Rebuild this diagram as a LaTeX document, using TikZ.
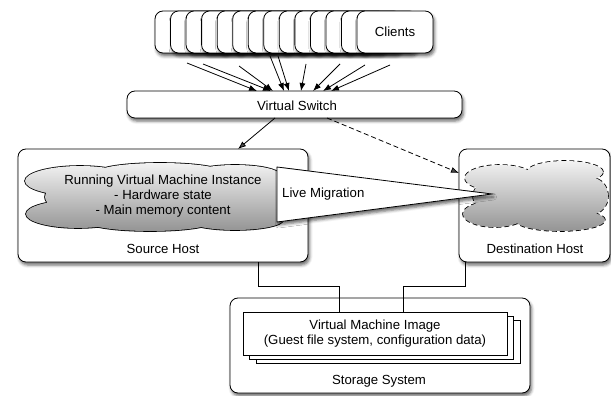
\documentclass[tikz,border=0pt]{standalone}
\usepackage{fontspec}
\setmainfont{Liberation Sans}
\usetikzlibrary{shadows.blur,arrows.meta,calc}
\tikzset{
  base/.style={font=\fontsize{13.2}{15}\selectfont},
  rbox/.style={draw, line width=0.8pt, fill=white, rounded corners=8pt, inner sep=0pt, outer sep=0pt, anchor=north west},
  shd/.style={blur shadow={shadow xshift=1.5pt, shadow yshift=-3pt, shadow blur radius=3pt, shadow opacity=60}},
  plainbox/.style={draw, line width=0.8pt, fill=white, inner sep=0pt, outer sep=0pt, anchor=north west},
  lbl/.style={base, inner sep=0pt, align=center},
  arr/.style={line width=0.8pt, -{Latex[length=8pt,width=6pt]}},
  conn/.style={line width=0.8pt},
  cloudline/.style={line width=1.6pt},
  cloudfill/.style={top color=black!5, bottom color=black!42},
  cldash/.style={dash pattern=on 5pt off 3pt},
}
\begin{document}
\begin{tikzpicture}[x=1pt,y=-1pt]
\useasboundingbox (0,0) rectangle (611,396);

% virtual switch
\node[rbox, shd, minimum width=335pt, minimum height=27pt] (sw) at (127,91) {};
\node[lbl] (swt) at (297,106) {Virtual Switch};

% client arrows
\foreach \n/\sx/\sy/\ex in {1/187/63/257, 2/203/64/271, 3/239/66/273, 4/270/56/284, 5/278/56/289, 6/306/64/301, 7/340/64/313, 8/365/65/323, 9/390/65/331} {
  \coordinate (a\n) at (\sx,\sy);
  \coordinate (b\n) at (\ex,91);
  \draw[arr] (a\n) -- (b\n);
}

% clients stack
\foreach \i in {0,...,13} {
  \node[rbox, shd, minimum width=76pt, minimum height=42pt] (c\i) at ({155+15.54*\i},11) {};
}
\node[lbl] (clt) at (c13.center) {Clients};

% hosts
\node[rbox, shd, minimum width=290pt, minimum height=113pt] (src) at (18,149) {};
\node[rbox, shd, minimum width=151pt, minimum height=113pt] (dst) at (459,149) {};

% source cloud (union of ellipses)
\draw[cloudline]
  (155,197) ellipse [x radius=110pt, y radius=27pt]
  (80,181) ellipse [x radius=55pt, y radius=15pt]
  (78,214) ellipse [x radius=52pt, y radius=14pt]
  (160,172) ellipse [x radius=62pt, y radius=9pt]
  (235,175) ellipse [x radius=45pt, y radius=10pt]
  (150,222) ellipse [x radius=62pt, y radius=9pt]
  (235,220) ellipse [x radius=48pt, y radius=10pt]
  (262,197) ellipse [x radius=24pt, y radius=24pt];
\shade[cloudfill]
  (155,197) ellipse [x radius=110pt, y radius=27pt]
  (80,181) ellipse [x radius=55pt, y radius=15pt]
  (78,214) ellipse [x radius=52pt, y radius=14pt]
  (160,172) ellipse [x radius=62pt, y radius=9pt]
  (235,175) ellipse [x radius=45pt, y radius=10pt]
  (150,222) ellipse [x radius=62pt, y radius=9pt]
  (235,220) ellipse [x radius=48pt, y radius=10pt]
  (262,197) ellipse [x radius=24pt, y radius=24pt];

% destination cloud (dashed)
\draw[cloudline, cldash]
  (535,196) ellipse [x radius=62pt, y radius=26pt]
  (500,178) ellipse [x radius=35pt, y radius=13pt]
  (565,172) ellipse [x radius=38pt, y radius=11pt]
  (592,196) ellipse [x radius=16pt, y radius=18pt]
  (495,214) ellipse [x radius=32pt, y radius=13pt]
  (560,220) ellipse [x radius=45pt, y radius=11pt];
\shade[cloudfill]
  (535,196) ellipse [x radius=62pt, y radius=26pt]
  (500,178) ellipse [x radius=35pt, y radius=13pt]
  (565,172) ellipse [x radius=38pt, y radius=11pt]
  (592,196) ellipse [x radius=16pt, y radius=18pt]
  (495,214) ellipse [x radius=32pt, y radius=13pt]
  (560,220) ellipse [x radius=45pt, y radius=11pt];

\node[lbl] (vmt) at (163,196) {Running Virtual Machine Instance\\- Hardware state\\- Main memory content};

% live migration
\draw[line width=0.8pt, fill=white, shd] (277,167) -- (492,194) -- (277,222) -- cycle;
\node[lbl, anchor=west] (lm) at (282,194) {Live Migration};

\node[lbl] (srct) at (163,249) {Source Host};
\node[lbl] (dstt) at (535,249) {Destination Host};

% switch to hosts
\draw[arr] ([xshift=148pt]sw.south west) -- ([xshift=220pt]src.north west);
\draw[arr, dashed, dash pattern=on 5pt off 3pt] ([xshift=200pt]sw.south west) -- ([yshift=-24pt]dst.north west);

% storage
\node[rbox, shd, minimum width=300pt, minimum height=95pt] (st) at (230,298) {};
\node[lbl] (stt) at (379,381) {Storage System};

\node[plainbox, minimum width=264pt, minimum height=43pt] (vm3) at (256,320) {};
\node[plainbox, minimum width=264pt, minimum height=43pt] (vm2) at (249.5,316) {};
\node[plainbox, minimum width=264pt, minimum height=43pt] (vm1) at (243,312) {};
\node[lbl] (vmi) at (375,333.5) {Virtual Machine Image\\(Guest file system, configuration data)};

% connectors to storage
\coordinate (m1) at (339,286);
\coordinate (m2) at (403,286);
\draw[conn] ([xshift=240pt]src.south west) |- (m1) -- (m1 |- vm1.north);
\draw[conn] ([xshift=6pt]dst.south west) |- (m2) -- (m2 |- vm1.north);
\end{tikzpicture}
\end{document}
